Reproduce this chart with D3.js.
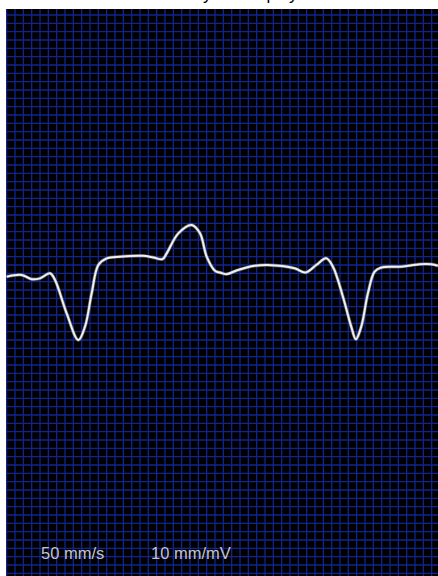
<!DOCTYPE html>
<html>
<head>
<meta charset="utf-8">
<script src="https://cdn.jsdelivr.net/npm/d3@7"></script>
<style>
  html, body { margin: 0; padding: 0; background: #fff; }
  svg { display: block; }
</style>
</head>
<body>
<script>
// ECG strip, 50 mm/s and 10 mm/mV: 1 small box = 20 ms, 0.1 mV

// sample times (ms) and voltages (mV)
var times = [0, 36, 60, 80, 104, 116, 144, 172, 188, 204, 220, 240, 272, 328, 352,
  374, 384, 412, 444, 464, 480, 500, 512, 527, 555, 595, 627, 691, 717, 743,
  767, 783, 807, 827, 838, 851, 867, 883, 899, 947, 991, 1019, 1035];
var volts = [-0.14, -0.12, -0.17, -0.16, -0.10, -0.18, -0.58, -0.90, -0.74, -0.34,
  0.00, 0.08, 0.10, 0.11, 0.09, 0.07, 0.14, 0.38, 0.48, 0.38, 0.10, -0.07, -0.09,
  -0.11, -0.06, -0.01, 0.00, -0.04, -0.09, 0.00, 0.08, -0.02, -0.38, -0.74, -0.89,
  -0.74, -0.34, -0.08, -0.03, -0.02, 0.01, 0.01, -0.01];

var speedLabel = "50 mm/s";
var gainLabel = "10 mm/mV";
var title = "ECG rhythm display";

var W = 438, H = 576;
var padLeft = 6, padTop = 9;   // (don't call these "top", window.top is read-only)

var svg = d3.select("body").append("svg")
  .attr("width", W)
  .attr("height", H);

var x = d3.scaleLinear().domain([0, 1040]).range([6.67, 440]);
var y = d3.scaleLinear().domain([-3.8, 3.1]).range([581.67, 6.67]);

// title sits mostly above the window, only descenders show
svg.append("text")
  .attr("x", 222)
  .attr("y", 0)
  .attr("text-anchor", "middle")
  .style("font-family", "Helvetica, Arial, 'Liberation Sans', sans-serif")
  .style("font-size", "17px")
  .style("fill", "#000")
  .text(title);

svg.append("clipPath").attr("id", "plot")
  .append("rect")
  .attr("x", padLeft).attr("y", padTop)
  .attr("width", W - padLeft).attr("height", H - padTop);

var plot = svg.append("g").attr("clip-path", "url(#plot)");

plot.append("rect")
  .attr("x", padLeft).attr("y", padTop)
  .attr("width", W - padLeft).attr("height", H - padTop)
  .style("fill", "#000");

var grid = plot.append("g")
  .style("stroke", "#1830c0")
  .style("stroke-width", 1.3)
  .style("opacity", 0.75);

grid.selectAll(".vline")
  .data(d3.range(0, 1041, 20))
  .enter()
  .append("line")
  .attr("class", "vline")
  .attr("x1", function(d) { return x(d); })
  .attr("x2", function(d) { return x(d); })
  .attr("y1", padTop)
  .attr("y2", H);

grid.selectAll(".hline")
  .data(d3.range(-38, 32, 1))
  .enter()
  .append("line")
  .attr("class", "hline")
  .attr("x1", padLeft)
  .attr("x2", W)
  .attr("y1", function(d) { return y(d / 10); })
  .attr("y2", function(d) { return y(d / 10); });

var line = d3.line()
  .x(function(d, i) { return x(times[i]); })
  .y(function(d) { return y(d); })
  .curve(d3.curveCatmullRom.alpha(0.5));

plot.append("path")
  .datum(volts)
  .attr("d", line)
  .style("fill", "none")
  .style("stroke", "#9a9a9a")
  .style("stroke-width", 3.4)
  .style("stroke-linejoin", "round")
  .style("opacity", 0.6);

plot.append("path")
  .datum(volts)
  .attr("d", line)
  .style("fill", "none")
  .style("stroke", "#f0f0f0")
  .style("stroke-width", 2)
  .style("stroke-linejoin", "round");

var labels = plot.append("g")
  .style("font-family", "Helvetica, Arial, 'Liberation Sans', sans-serif")
  .style("font-size", "16.5px")
  .style("fill", "#c4c4c4");

labels.append("text").attr("x", 41).attr("y", 559).text(speedLabel);
labels.append("text").attr("x", 151).attr("y", 559).text(gainLabel);
</script>
</body>
</html>
